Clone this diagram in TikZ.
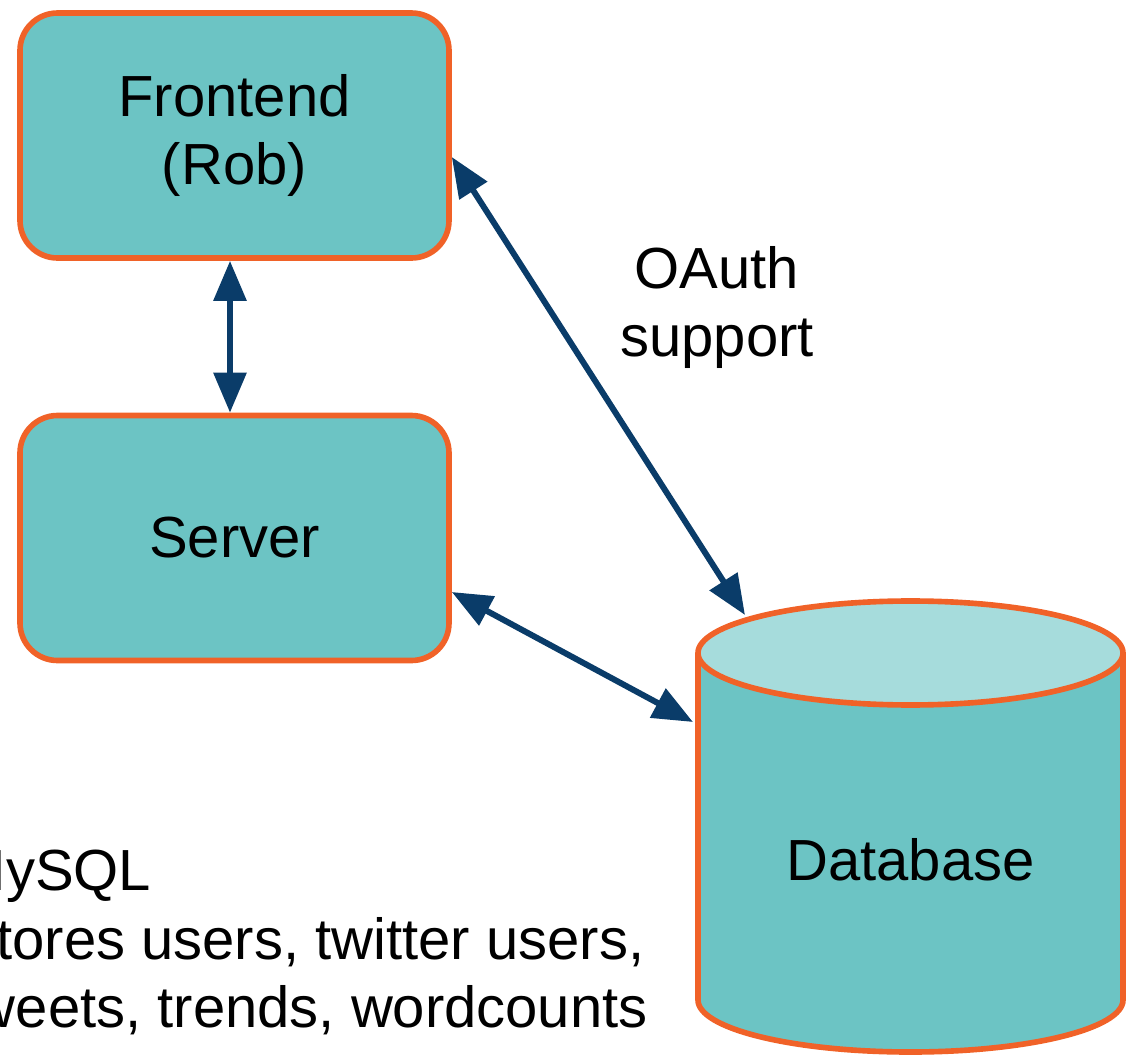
\documentclass[tikz,border=0pt]{standalone}
\usepackage{fontspec}
\setmainfont{Liberation Sans}
\usetikzlibrary{arrows.meta,shapes.geometric}
\definecolor{boxfill}{HTML}{6CC4C4}
\definecolor{boxtop}{HTML}{A6DCDC}
\definecolor{boxline}{HTML}{F06228}
\definecolor{linkcol}{HTML}{0A3C69}

\begin{document}
\begin{tikzpicture}[
  every node/.style={font=\fontsize{33}{39}\selectfont},
  box/.style={rectangle, rounded corners=0.75cm, draw=boxline, fill=boxfill, line width=3.2pt, minimum width=8.58cm, minimum height=4.9cm, align=center},
  tip/.tip={Triangle[length=0.8cm,width=0.64cm]},
  link/.style={tip-tip, draw=linkcol, line width=3.4pt}]
  \useasboundingbox (0,0) rectangle (22.56,-21.18);
  \clip (0,0) rectangle (22.56,-21.18);
  % Nodes
  \node (front) [box] at (4.69,-2.71) {Frontend\\(Rob)};
  \node (serv) [box] at (4.69,-10.76) {Server};
  \node (db) [cylinder, shape border rotate=90, aspect=0.4, draw=boxline, line width=3.2pt, cylinder uses custom fill, cylinder body fill=boxfill, cylinder end fill=boxtop, minimum width=8.5cm, minimum height=9.02cm, anchor=shape center] at (18.21,-16.53) {Database};
  % Labels
  \node (oauth) [align=center] at (14.34,-6.15) {OAuth\\support};
  \node (notes) [align=left, anchor=north west, inner sep=0pt] at (-0.85,-17.0) {MySQL\\Stores users, twitter users,\\tweets, trends, wordcounts};
  % Arrows
  \draw[link] ([xshift=-0.09cm]front.south) -- ([xshift=-0.09cm]serv.north);
  \draw[link] ([yshift=-0.43cm]front.east) -- ([shift={(-3.31,4.23)}]db.shape center);
  \draw[link] ([yshift=-1.08cm]serv.east) -- ([shift={(-4.35,2.09)}]db.shape center);
\end{tikzpicture}
\end{document}
